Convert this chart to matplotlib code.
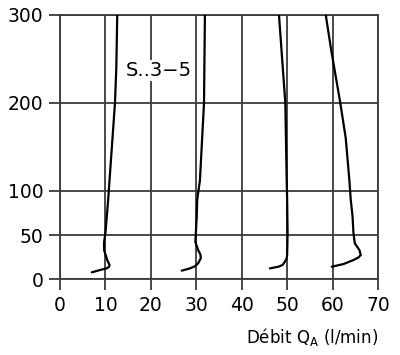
import matplotlib
matplotlib.use("Agg")
import matplotlib.pyplot as plt

# flow (l/min) vs. height, four curves
c1_x = [7.0, 8.8, 10.3, 10.8, 10.9, 10.4, 9.7, 9.7, 10.0, 10.3, 10.6, 10.9, 12.1, 12.4, 12.6]
c1_y = [7.6, 10.2, 12.2, 14.0, 15.9, 21.6, 33, 42, 52, 71, 90, 112, 200, 241, 300]

c2_x = [26.8, 28.6, 29.7, 30.4, 31.0, 30.9, 30.4, 29.8, 29.9, 30.1, 30.2, 30.8, 31.7, 31.9]
c2_y = [9.5, 12.1, 14.5, 17.8, 23.5, 28, 33, 42, 52, 71, 90, 112, 200, 300]

c3_x = [46.2, 48.1, 49.0, 49.5, 49.9, 50.0, 50.1, 50.0, 49.9, 49.6, 48.2]
c3_y = [12.1, 14.0, 16.0, 19.7, 23.5, 27.3, 52, 90, 112, 200, 300]

c4_x = [59.8, 62.4, 64.6, 65.7, 66.2, 65.9, 64.9, 64.6, 64.4, 64.0, 63.7, 62.9, 61.7, 59.7, 58.5]
c4_y = [14.0, 17.0, 21.6, 24.5, 27.3, 33, 40.5, 52, 71, 90, 112, 160, 200, 260, 300]

x_ticks = [0, 10, 20, 30, 40, 50, 60, 70]
y_ticks = [0, 50, 100, 200, 300]

grid_col = "#3a3a3a"

fig = plt.figure(figsize=(4.0, 3.55), dpi=100)
ax = fig.add_axes([0.15, 0.214, 0.795, 0.744])

for x, y in [(c1_x, c1_y), (c2_x, c2_y), (c3_x, c3_y), (c4_x, c4_y)]:
    ax.plot(x, y, color="black", lw=1.6, solid_capstyle="round",
            solid_joinstyle="round", zorder=3)

ax.set_xlim(0, 70)
ax.set_ylim(0, 300)
ax.set_xticks(x_ticks)
ax.set_yticks(y_ticks)
ax.grid(True, color=grid_col, lw=1.3)
ax.set_axisbelow(True)
for s in ax.spines.values():
    s.set_color(grid_col)
    s.set_linewidth(1.3)
ax.tick_params(direction="out", length=8, width=1.3, color=grid_col,
               labelsize=13.5, pad=4)

ax.text(21.7, 237, "S..3\u22125", fontsize=14, ha="center", va="center",
        bbox=dict(facecolor="white", edgecolor="none", pad=1), zorder=2)

ax.set_xlabel("Débit Q$_\\mathregular{A}$ (l/min)", fontsize=12, loc="right",
              labelpad=8)

fig.savefig("out.png", dpi=100)
